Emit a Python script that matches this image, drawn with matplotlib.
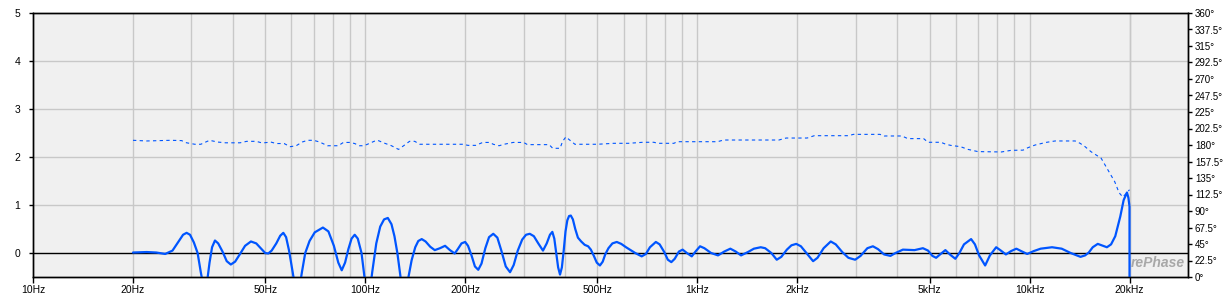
import matplotlib
matplotlib.use("Agg")
import matplotlib.pyplot as plt
from matplotlib.ticker import FixedLocator, NullLocator

plt.rcParams['font.family'] = ['Liberation Sans', 'DejaVu Sans']

# ---- data ----
mag_freq = [20, 22, 23.5, 25, 26.3, 27.5, 28.3, 29.0, 29.7, 30.5, 31.3, 32, 33, 34, 34.6, 35.3,
            36.1, 37.2, 38.3, 39.4, 40.6, 42, 43.5, 45.3, 47, 48.8, 50, 51.1, 52.3, 54, 55.5,
            56.7, 57.8, 59, 60.5, 62.5, 64.5, 66, 68, 70.5, 74.6, 77.5, 80.5, 83, 85, 87, 89,
            91, 93, 95, 97.5, 99.5, 102, 105, 108, 111, 114, 117, 120, 122.5, 125, 127.5, 131,
            135, 138, 141.5, 144.5, 148, 152, 157, 162, 168, 174, 180, 186, 190, 195, 200, 204,
            209, 214, 219, 224, 230, 236, 243, 250, 257, 265, 273, 280, 288, 297, 305, 313,
            322, 332, 343, 352, 360, 366, 371, 376, 381, 386, 391, 396, 401, 406, 411, 416,
            422, 429, 437, 447, 458, 469, 478, 488, 498, 509, 519, 528, 540, 555, 572, 590,
            610, 630, 650, 680, 700, 720, 750, 770, 795, 815, 835, 855, 880, 903, 930, 962,
            990, 1019, 1050, 1100, 1154, 1205, 1257, 1305, 1354, 1420, 1480, 1552, 1600, 1670,
            1734, 1790, 1860, 1920, 1985, 2050, 2130, 2231, 2300, 2400, 2521, 2610, 2730,
            2850, 2986, 3100, 3250, 3377, 3500, 3650, 3814, 3950, 4157, 4507, 4776, 4950,
            5100, 5234, 5400, 5581, 5780, 5980, 6150, 6350, 6670, 6850, 7050, 7352, 7600,
            7937, 8200, 8490, 8800, 9130, 9500, 9840, 10300, 10800, 11690, 12500, 13300,
            14240, 14700, 15080, 15500, 16050, 16500, 17100, 17600, 18120, 18500, 18760,
            19200, 19650, 19850, 20000, 20010]
mag_vals = [0.01, 0.02, 0.01, -0.02, 0.05, 0.25, 0.38, 0.42, 0.38, 0.22, 0.0, -0.4, -0.9,
            -0.2, 0.12, 0.26, 0.2, 0.03, -0.17, -0.24, -0.18, -0.02, 0.15, 0.24, 0.2, 0.08,
            0.0, -0.01, 0.05, 0.2, 0.36, 0.42, 0.33, 0.05, -0.4, -1.0, -0.4, 0.0, 0.25, 0.43,
            0.53, 0.45, 0.15, -0.2, -0.36, -0.2, 0.08, 0.3, 0.38, 0.3, 0.0, -0.5, -1.1, -0.4,
            0.2, 0.55, 0.7, 0.73, 0.6, 0.35, 0.0, -0.45, -1.1, -0.5, -0.15, 0.12, 0.25, 0.29,
            0.24, 0.13, 0.06, 0.1, 0.15, 0.06, -0.01, 0.08, 0.2, 0.23, 0.15, -0.05, -0.28,
            -0.35, -0.22, 0.1, 0.33, 0.40, 0.32, 0.05, -0.28, -0.40, -0.25, 0.05, 0.28, 0.38,
            0.40, 0.35, 0.2, 0.05, 0.2, 0.38, 0.44, 0.3, 0.0, -0.3, -0.45, -0.3, 0.05, 0.45,
            0.68, 0.77, 0.78, 0.7, 0.5, 0.32, 0.24, 0.17, 0.14, 0.07, -0.06, -0.2, -0.26,
            -0.18, -0.03, 0.1, 0.2, 0.23, 0.19, 0.12, 0.06, 0.0, -0.07, -0.02, 0.12, 0.23,
            0.18, 0.02, -0.14, -0.19, -0.12, 0.03, 0.07, 0.0, -0.07, 0.04, 0.14, 0.1, 0.0,
            -0.05, 0.03, 0.09, 0.03, -0.05, 0.02, 0.09, 0.12, 0.1, 0.0, -0.14, -0.08, 0.07,
            0.16, 0.19, 0.14, 0.0, -0.17, -0.1, 0.1, 0.24, 0.18, 0.02, -0.1, -0.14, -0.06,
            0.1, 0.14, 0.08, -0.03, -0.06, 0.0, 0.07, 0.06, 0.10, 0.05, -0.06, -0.10, -0.02,
            0.06, -0.04, -0.12, 0.0, 0.18, 0.29, 0.18, -0.05, -0.26, -0.05, 0.12, 0.05, -0.03,
            0.04, 0.09, 0.03, -0.02, 0.04, 0.09, 0.12, 0.09, 0.0, -0.08, -0.05, 0.01, 0.12,
            0.19, 0.16, 0.12, 0.18, 0.35, 0.6, 0.76, 1.1, 1.26, 1.15, 0.97, -5.0]

phase_freq = [20, 22, 26, 28, 29, 30.7, 32, 34, 36, 38, 42, 44, 47, 49, 52, 54, 57, 59.5, 62,
              64.6, 67, 70, 73, 77, 83, 86, 90, 93, 96, 98, 101, 107, 109, 114, 120, 126, 131,
              136, 141, 146, 197, 204, 215, 226, 237, 243, 253, 262, 279, 300, 308, 358, 367,
              386, 393, 402, 416, 428, 500, 560, 620, 686, 740, 760, 850, 870, 1150, 1200,
              1760, 1850, 2140, 2250, 2850, 2950, 3546, 3650, 4130, 4300, 4800, 4950, 5410,
              5600, 5790, 6200, 6530, 6990, 8230, 8800, 9560, 9900, 10400, 11200, 11940,
              13720, 14200, 14700, 15300, 16430, 17220, 18050, 18600, 19100, 20000]
phase_vals = [186.4, 185.5, 186.4, 186, 183, 181, 181, 186.4, 184, 183, 183, 185, 185, 182.7,
              184, 182, 182, 177.7, 179, 184, 186.4, 186.4, 184, 179, 179, 183.5, 183.5, 182,
              179, 179, 180.5, 185.5, 186.4, 182.7, 179, 174, 179.5, 185, 185, 181, 181,
              179.5, 179.5, 183.5, 183.5, 181, 179, 181, 183.5, 183.5, 180.5, 180.5, 175.5,
              175.5, 185, 191, 185.5, 181, 181, 182.3, 182.3, 183.7, 183.7, 182.3, 182.3,
              184.5, 184.5, 186.8, 186.8, 189.5, 189.5, 192.7, 192.7, 194.5, 194.5, 192.3,
              192.3, 188.7, 188.7, 183.7, 183.7, 181, 179.5, 177.7, 174, 171, 170.5, 172.7,
              173, 176.4, 180, 183.5, 185.5, 185.5, 182.3, 177.7, 171, 162, 146, 130, 115,
              109, 119]

xtick_vals = [10, 20, 50, 100, 200, 500, 1000, 2000, 5000, 10000, 20000]
xtick_labels = ['10Hz', '20Hz', '50Hz', '100Hz', '200Hz', '500Hz', '1kHz', '2kHz', '5kHz',
                '10kHz', '20kHz']
ytick_vals = [0, 1, 2, 3, 4, 5]
phase_ticks = [i * 22.5 for i in range(17)]

# ---- style ----
BLUE = '#0055ff'
GRID = '#c8c8c8'
W, H = 1232, 296
fig = plt.figure(figsize=(W / 100, H / 100), dpi=100)
fig.patch.set_facecolor('white')
L, R, T, B = 33, 1188, 13, 277
ax = fig.add_axes([L / W, 1 - B / H, (R - L) / W, (B - T) / H])
ax.set_facecolor('#f0f0f0')
ax.set_xscale('log')
ax.set_xlim(10, 30000)
ax.set_ylim(-0.5, 5)

# grid
grid_x = [m * 10 ** d for d in range(1, 5) for m in range(1, 10)] + [20000]
for gx in grid_x:
    if gx > 10:
        ax.axvline(gx, color=GRID, lw=1.0, zorder=1)
for gy in [1, 2, 3, 4]:
    ax.axhline(gy, color=GRID, lw=1.0, zorder=1)
ax.axhline(0, color='black', lw=1.0, zorder=2)

ax.plot(mag_freq, mag_vals, color=BLUE, lw=1.6, zorder=4,
        solid_joinstyle='round', solid_capstyle='round')

ax.xaxis.set_major_locator(FixedLocator(xtick_vals))
ax.xaxis.set_minor_locator(NullLocator())
ax.set_xticklabels(xtick_labels)
ax.yaxis.set_major_locator(FixedLocator(ytick_vals))
ax.set_yticklabels([str(v) for v in ytick_vals])
ax.tick_params(axis='x', length=4, width=1, pad=2, labelsize=7.5, colors='black')
ax.tick_params(axis='y', length=3, width=1, pad=6, labelsize=7.5)
for s in ax.spines.values():
    s.set_linewidth(1.0)
    s.set_color('black')

ax2 = ax.twinx()
ax2.set_ylim(0, 360)
ax2.plot(phase_freq, phase_vals, color=BLUE, lw=0.8, dashes=(3, 3), zorder=3)
ax2.yaxis.set_major_locator(FixedLocator(phase_ticks))
ax2.set_yticklabels([(f"{v:g}°") for v in phase_ticks])
ax2.tick_params(axis='y', length=3, width=1, pad=2, labelsize=7)
for s in ax2.spines.values():
    s.set_linewidth(1.0)

ax.text(0.9975, 0.025, 'rePhase', transform=ax.transAxes, ha='right', va='bottom',
        fontsize=10, fontweight='bold', fontstyle='italic', color='#a8a8a8', zorder=6)

fig.savefig('out.png', dpi=100)
